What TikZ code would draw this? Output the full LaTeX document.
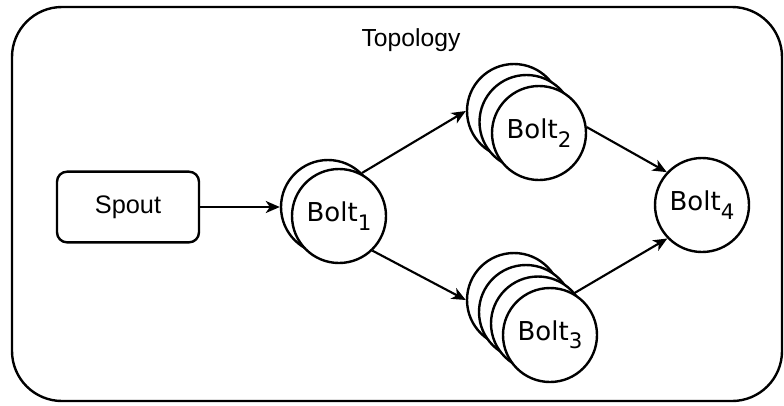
\documentclass[tikz,border=0pt]{standalone}
\usepackage{fontspec}
\newfontfamily\libsans{Liberation Sans}
\newfontfamily\dejsans{DejaVu Sans}
\usetikzlibrary{arrows.meta}
\newcommand{\boltlbl}[1]{Bolt\raisebox{-0.32em}{\fontsize{16}{16}\selectfont #1}}
\tikzset{
  frame/.style={draw, line width=1.8pt, rounded corners=37.5pt},
  spoutbox/.style={draw, line width=1.8pt, rounded corners=7.5pt, minimum width=106.5pt, minimum height=53pt, font=\libsans\fontsize{19}{21}\selectfont, fill=white},
  boltc/.style={draw, circle, line width=1.8pt, minimum size=70.5pt, inner sep=0pt, fill=white, font=\dejsans\fontsize{19.5}{21}\selectfont},
  conn/.style={draw, line width=1.6pt, -{Stealth[length=10.5pt,width=9pt,inset=3pt]}},
  title/.style={font=\libsans\fontsize{18.5}{20}\selectfont}
}
\begin{document}
\begin{tikzpicture}[x=0.75pt,y=-0.75pt]
\useasboundingbox (0,0) rectangle (784,405);
\draw[frame] (12,7) rectangle (782,401);
\node[title] (topo) at (411,40) {Topology};
\node[spoutbox] (spout) at (128,207) {Spout};
% Bolt 1
\node[boltc] (b1a) at (328,207) {};
\node[boltc] (b1b) at (339,216) {\boltlbl{1}};
% Bolt 2
\node[boltc] (b2a) at (514,111) {};
\node[boltc] (b2b) at (526.5,122) {};
\node[boltc] (b2c) at (539,133) {\boltlbl{2}};
% Bolt 3
\node[boltc] (b3a) at (514,300) {};
\node[boltc] (b3b) at (526,312) {};
\node[boltc] (b3c) at (538,323.5) {};
\node[boltc] (b3d) at (550,335) {\boltlbl{3}};
% Bolt 4
\node[boltc] (b4) at (702,205) {\boltlbl{4}};
% connectors
\draw[conn] (spout.east) -- (b1a.180);
\draw[conn] (b1a.45) -- (b2a.180);
\draw[conn] (b1b.-46) -- (b3a.180);
\draw[conn] (b2c.7) -- (b4.137);
\draw[conn] (b3d.60) -- (b4.224);
\end{tikzpicture}
\end{document}
